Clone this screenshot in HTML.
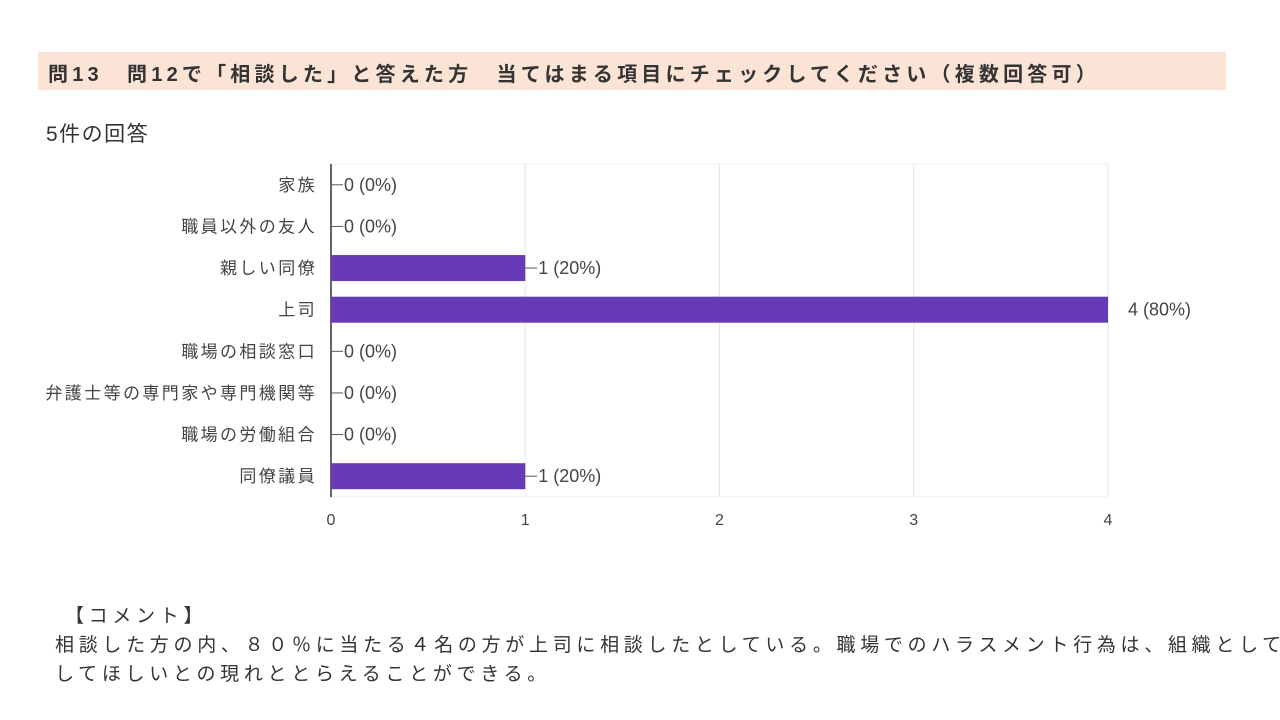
<!DOCTYPE html>
<html><head><meta charset="utf-8"><style>
body{margin:0;width:1280px;height:720px;background:#fff;font-family:"Liberation Sans","Noto Sans CJK JP",sans-serif;position:relative;overflow:hidden}
.banner{position:absolute;left:38px;top:52px;width:1188px;height:38px;background:#fbe4d6}
.banner span{position:absolute;left:10px;top:6px;font-size:20px;font-weight:bold;color:#333;letter-spacing:4.2px;white-space:nowrap}
.resp{position:absolute;left:46px;top:118px;font-size:21px;color:#333;letter-spacing:1.5px}
.comment{position:absolute;left:55px;top:602px;font-size:19px;color:#333;line-height:29px;letter-spacing:4.7px;white-space:nowrap}
svg{position:absolute;left:0;top:0}
</style></head><body>
<div class="banner"><span>問13　問12で「相談した」と答えた方　当てはまる項目にチェックしてください（複数回答可）</span></div>
<div class="resp">5件の回答</div>
<svg width="1280" height="720" id="chart"></svg>
<div class="comment">&nbsp;【コメント】<br>相談した方の内、８０％に当たる４名の方が上司に相談したとしている。職場でのハラスメント行為は、組織として解決<br>してほしいとの現れととらえることができる。</div>
<script>
const categories=["家族","職員以外の友人","親しい同僚","上司","職場の相談窓口","弁護士等の専門家や専門機関等","職場の労働組合","同僚議員"];
const counts=[0,0,1,4,0,0,0,1];
const total=5;
const ticks=[0,1,2,3,4];
const svg=document.getElementById('chart');
const NS="http://www.w3.org/2000/svg";
const x0=331,x1=1108,top0=164,bot=497,maxV=4;
const xs=v=>x0+(x1-x0)*v/maxV;
const rowH=(bot-top0)/categories.length;
const yc=i=>top0+rowH*(i+0.5);
function mk(t,a){const e=document.createElementNS(NS,t);for(const k in a)e.setAttribute(k,a[k]);svg.appendChild(e);return e;}
const frame=mk('rect',{x:x0,y:top0,width:x1-x0,height:bot-top0,fill:'none',stroke:'#eee'});


ticks.forEach(t=>{
 const g=mk('line',{x1:xs(t),x2:xs(t),y1:top0,y2:bot,stroke:'#e6e6e6'});
 
 
 const l=mk('text',{x:xs(t),y:bot+28,'text-anchor':'middle','font-size':16,fill:'#444'});
 l.textContent=t;
 
 
});
const ax=mk('line',{x1:x0,x2:x0,y1:top0,y2:bot,stroke:'#333','stroke-width':1.5});


categories.forEach((c,i)=>{
 const y=yc(i);
 const lab=mk('text',{x:x0-14,y:y+6,'text-anchor':'end','font-size':17,'letter-spacing':2.4,fill:'#444'});
 lab.textContent=c;
 
 
 const v=counts[i];
 if(v>0){
  const b=mk('rect',{x:x0,y:y-13,width:xs(v)-x0,height:26,fill:'#673ab7'});
  
  
 }
 const ex=xs(v);
 const label=v+' ('+Math.round(v/total*100)+'%)';
 if(v<maxV){
  const ln=mk('line',{x1:ex,x2:ex+12,y1:y,y2:y,stroke:'#555'});
  
  
 }
 const vt=mk('text',{x:v<maxV?ex+13:ex+20,y:y+6,'font-size':18,fill:'#444'});
 vt.textContent=label;
 
 
});
</script>
</body></html>
